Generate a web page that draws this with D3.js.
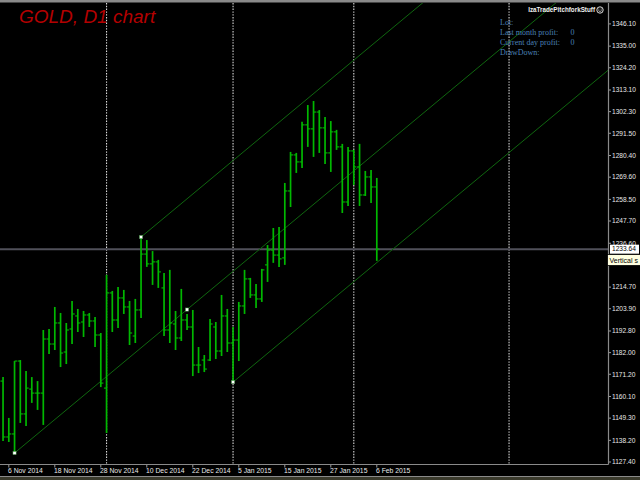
<!DOCTYPE html>
<html><head><meta charset="utf-8">
<script src="https://cdn.jsdelivr.net/npm/d3@7/dist/d3.min.js"></script>
<style>html,body{margin:0;padding:0;background:#000;overflow:hidden}</style>
</head><body>
<svg id="chart" width="640" height="480"></svg>
<script>
// ---- data (XAUUSD daily bars) ----
const dates = ["2014-11-05","2014-11-06","2014-11-07","2014-11-10","2014-11-11","2014-11-12","2014-11-13","2014-11-14","2014-11-17","2014-11-18","2014-11-19","2014-11-20","2014-11-21","2014-11-24","2014-11-25","2014-11-26","2014-11-27","2014-11-28","2014-12-01","2014-12-02","2014-12-03","2014-12-04","2014-12-05","2014-12-08","2014-12-09","2014-12-10","2014-12-11","2014-12-12","2014-12-15","2014-12-16","2014-12-17","2014-12-18","2014-12-19","2014-12-22","2014-12-23","2014-12-24","2014-12-26","2014-12-29","2014-12-30","2014-12-31","2015-01-02","2015-01-05","2015-01-06","2015-01-07","2015-01-08","2015-01-09","2015-01-12","2015-01-13","2015-01-14","2015-01-15","2015-01-16","2015-01-19","2015-01-20","2015-01-21","2015-01-22","2015-01-23","2015-01-26","2015-01-27","2015-01-28","2015-01-29","2015-01-30","2015-02-02","2015-02-03","2015-02-04","2015-02-05","2015-02-06"];
const open  = [1167.8,1139.9,1141.4,1177.8,1151.4,1163.8,1161.8,1161.8,1188.8,1186.3,1196.8,1182.3,1193.8,1200.3,1197.3,1200.8,1197.8,1190.8,1164.3,1211.8,1198.3,1209.3,1204.8,1190.3,1203.3,1231.2,1226.3,1227.3,1214.3,1193.3,1196.3,1189.3,1198.3,1194.8,1175.8,1178.3,1178.3,1194.8,1182.8,1200.3,1186.8,1188.3,1205.3,1218.8,1210.8,1208.8,1225.8,1233.2,1230.7,1229.3,1262.7,1280.7,1277.2,1295.7,1293.7,1302.1,1294.2,1281.7,1292.2,1284.7,1257.2,1282.7,1274.7,1260.7,1269.7,1264.7];
const high  = [1169.8,1149.4,1177.8,1178.3,1172.8,1169.8,1167.8,1193.3,1193.8,1204.8,1201.8,1196.8,1207.8,1203.8,1202.8,1201.8,1199.8,1191.8,1220.8,1212.8,1214.8,1213.3,1207.8,1208.8,1239.7,1238.2,1232.7,1228.3,1221.8,1223.3,1202.8,1213.8,1201.3,1203.3,1184.8,1180.8,1198.8,1197.3,1210.8,1203.8,1194.8,1207.3,1223.3,1219.3,1216.3,1223.8,1235.7,1244.2,1244.7,1266.7,1282.2,1281.7,1297.2,1305.6,1307.6,1303.1,1299.6,1297.6,1293.2,1286.2,1284.7,1283.2,1286.2,1272.7,1273.2,1269.2];
const low   = [1137.9,1137.4,1131.9,1146.9,1145.4,1156.9,1153.4,1145.9,1181.3,1183.3,1174.8,1176.3,1186.3,1192.3,1189.8,1194.8,1184.8,1164.8,1141.9,1192.3,1194.3,1201.3,1185.8,1186.8,1199.3,1224.8,1215.8,1214.3,1190.3,1186.8,1183.3,1187.8,1193.3,1170.3,1171.8,1172.3,1177.8,1178.8,1180.3,1182.3,1167.3,1177.8,1201.3,1209.3,1204.3,1207.3,1217.3,1226.8,1224.8,1225.8,1254.7,1271.7,1274.2,1284.7,1279.7,1281.7,1276.2,1272.2,1283.2,1251.7,1255.2,1265.7,1255.2,1260.2,1256.7,1227.8];
const close = [1139.9,1141.4,1177.8,1151.4,1164.3,1161.8,1161.8,1188.8,1186.3,1196.8,1181.8,1193.3,1201.3,1196.8,1200.8,1197.8,1190.8,1166.8,1211.8,1198.3,1209.3,1204.8,1191.8,1203.3,1231.2,1226.3,1227.3,1222.3,1193.3,1196.8,1189.3,1198.3,1194.8,1175.8,1175.8,1173.8,1196.3,1182.8,1200.3,1186.8,1188.3,1205.3,1218.8,1210.8,1208.8,1223.3,1233.2,1230.7,1228.8,1262.7,1280.7,1277.2,1295.7,1293.7,1302.1,1294.2,1281.7,1292.2,1284.7,1257.2,1282.7,1274.7,1260.7,1269.7,1264.7,1233.64];
const priceTicks = [1346.10,1335.00,1324.20,1313.10,1302.30,1291.50,1280.40,1269.60,1258.50,1247.70,1236.60,1214.70,1203.90,1192.80,1182.00,1171.20,1160.10,1149.30,1138.20,1127.40];
const dateLabels = ["6 Nov 2014","18 Nov 2014","28 Nov 2014","10 Dec 2014","22 Dec 2014","5 Jan 2015","15 Jan 2015","27 Jan 2015","6 Feb 2015"];
const separatorBars = [18, 40, 61, 88];          // month separators (bar numbers, last one in future area)
const pitchforkBars = [2, 24, 40];               // anchor (low), point 2 (high), point 3 (low)
const currentPrice = 1233.64;
const infoLabels = ["Lot:", "Last month profit:", "Current day profit:", "DrawDown:"];
const infoValues = ["", "0", "0", ""];

// ---- scales ----
const W = 640, H = 480, plotRight = 608, plotTop = 3, plotBottom = 464;
const x = d3.scaleLinear().domain([0, 65]).range([3.05, 376.8]);
const y = d3.scaleLinear().domain([1127.4, 1346.1]).range([462, 23.9]);
const parse = d3.timeParse("%Y-%m-%d");
const fmt = d3.timeFormat("%-d %b %Y");

const svg = d3.select("#chart");
svg.append("rect").attr("width", W).attr("height", H).attr("fill", "#000");
svg.append("defs").append("clipPath").attr("id", "plot")
  .append("rect").attr("x", 0).attr("y", plotTop).attr("width", plotRight).attr("height", plotBottom - plotTop);

// top border
svg.append("rect").attr("x", 0).attr("y", 0).attr("width", W).attr("height", 2.5).attr("fill", "#8a8a8a");
// bottom window strip
svg.append("rect").attr("x", 0).attr("y", 476).attr("width", W).attr("height", 1).attr("fill", "#8a8a8a");
svg.append("rect").attr("x", 0).attr("y", 477).attr("width", W).attr("height", 3).attr("fill", "#3a3a2c");

const plot = svg.append("g").attr("clip-path", "url(#plot)");

// separators
plot.selectAll("line.sep").data(separatorBars).join("line")
  .attr("x1", d => x(d)).attr("x2", d => x(d))
  .attr("y1", plotTop).attr("y2", plotBottom)
  .attr("stroke", "#dcdcdc").attr("stroke-width", 1.1).attr("stroke-dasharray", "1.4,1.4");

// bid line
plot.append("line").attr("x1", 0).attr("x2", plotRight)
  .attr("y1", y(currentPrice)).attr("y2", y(currentPrice))
  .attr("stroke", "#50505a").attr("stroke-width", 2);

// pitchfork
const pA = {i: pitchforkBars[0], p: low[pitchforkBars[0]]};
const p2 = {i: pitchforkBars[1], p: high[pitchforkBars[1]]};
const p3 = {i: pitchforkBars[2], p: low[pitchforkBars[2]]};
const pM = {i: (p2.i + p3.i) / 2, p: (p2.p + p3.p) / 2};
const slope = (pM.p - pA.p) / (pM.i - pA.i);
const iEnd = x.invert(plotRight + 5);
[pA, p2, p3].forEach(s => {
  plot.append("line")
    .attr("x1", x(s.i)).attr("y1", y(s.p))
    .attr("x2", x(iEnd)).attr("y2", y(s.p + slope * (iEnd - s.i)))
    .attr("stroke", "#0f660f").attr("stroke-width", 1);
});

// bars
const bars = plot.append("g").attr("stroke", "#00b800");
dates.forEach((d, i) => {
  const cx = x(i);
  bars.append("line").attr("x1", cx).attr("x2", cx).attr("y1", y(high[i])).attr("y2", y(low[i])).attr("stroke-width", 1.7);
  bars.append("line").attr("x1", cx - 2.6).attr("x2", cx).attr("y1", y(open[i])).attr("y2", y(open[i])).attr("stroke-width", 1.1);
  bars.append("line").attr("x1", cx).attr("x2", cx + 2.6).attr("y1", y(close[i])).attr("y2", y(close[i])).attr("stroke-width", 1.1);
});

// pitchfork points
plot.selectAll("rect.pt").data([pA, p2, pM, p3]).join("rect")
  .attr("x", d => x(d.i) - 1.6).attr("y", d => y(d.p) - 1.6)
  .attr("width", 3.2).attr("height", 3.2).attr("fill", "#ffffff").attr("stroke", "#3a8a3a").attr("stroke-width", 0.5);

// axes lines
svg.append("line").attr("x1", plotRight + 0.5).attr("x2", plotRight + 0.5).attr("y1", plotTop).attr("y2", plotBottom + 0.5)
  .attr("stroke", "#8a8a8a").attr("stroke-width", 1.2);
svg.append("line").attr("x1", 0).attr("x2", plotRight + 0.5).attr("y1", plotBottom + 0.5).attr("y2", plotBottom + 0.5)
  .attr("stroke", "#8a8a8a").attr("stroke-width", 1.2);

// right axis ticks + labels
const ax = svg.append("g").attr("font-family", "'Liberation Sans', Arial, sans-serif").attr("font-size", 6.6).attr("fill", "#e8e8e8");
priceTicks.forEach(p => {
  ax.append("line").attr("x1", plotRight + 1).attr("x2", plotRight + 3).attr("y1", y(p)).attr("y2", y(p)).attr("stroke", "#9a9a9a");
  ax.append("text").attr("x", 612).attr("y", y(p)).attr("dy", "0.35em").text(d3.format(".2f")(p));
});

// date labels
const dl = svg.append("g").attr("font-family", "'Liberation Sans', Arial, sans-serif").attr("font-size", 6.8).attr("fill", "#e8e8e8");
dates.forEach((d, i) => {
  const lab = fmt(parse(d));
  if (dateLabels.includes(lab)) {
    dl.append("line").attr("x1", x(i)).attr("x2", x(i)).attr("y1", plotBottom + 1).attr("y2", plotBottom + 3.5).attr("stroke", "#9a9a9a");
    dl.append("text").attr("x", x(i) - 0.8).attr("y", 470.5).attr("dy", "0.35em").text(lab);
  }
});

// current price box
const cy = y(currentPrice);
svg.append("rect").attr("x", 610).attr("y", cy - 4.5).attr("width", 29).attr("height", 9).attr("fill", "#ffffff");
svg.append("text").attr("x", 612).attr("y", cy).attr("dy", "0.35em").attr("font-family", "'Liberation Sans', Arial, sans-serif")
  .attr("font-size", 6.6).attr("fill", "#000").text(d3.format(".2f")(currentPrice));
// tooltip
svg.append("rect").attr("x", 607.5).attr("y", 254.5).attr("width", 34).attr("height", 11).attr("fill", "#ffffe1").attr("stroke", "#000").attr("stroke-width", 0.8);
svg.append("text").attr("x", 609.5).attr("y", 260.5).attr("dy", "0.35em").attr("font-family", "'Liberation Sans', Arial, sans-serif")
  .attr("font-size", 7).attr("fill", "#000").text("Vertical s");

// title
svg.append("text").attr("x", 19).attr("y", 22.5).attr("font-family", "'Liberation Sans', Arial, sans-serif")
  .attr("font-style", "italic").attr("font-size", 19).attr("fill", "#b40000").text("GOLD, D1 chart");

// EA name + icon
svg.append("text").attr("x", 595).attr("y", 10).attr("dy", "0.35em").attr("text-anchor", "end")
  .attr("font-family", "'Liberation Sans', Arial, sans-serif").attr("font-size", 6.3).attr("font-weight", "bold").attr("fill", "#f0f0f0")
  .text("IzaTradePitchforkStuff");
svg.append("circle").attr("cx", 600).attr("cy", 10).attr("r", 3.2).attr("fill", "none").attr("stroke", "#f0f0f0").attr("stroke-width", 0.9);
svg.append("path").attr("d", "M598.3,10.6 Q600,12.4 601.7,10.6").attr("fill", "none").attr("stroke", "#f0f0f0").attr("stroke-width", 0.7);
svg.append("circle").attr("cx", 598.9).attr("cy", 9).attr("r", 0.5).attr("fill", "#f0f0f0");
svg.append("circle").attr("cx", 601.1).attr("cy", 9).attr("r", 0.5).attr("fill", "#f0f0f0");

// info panel
const info = svg.append("g").attr("font-family", "'Liberation Serif', 'Times New Roman', serif").attr("font-size", 8).attr("fill", "#4a80b8");
infoLabels.forEach((t, k) => {
  info.append("text").attr("x", 500).attr("y", 21.7 + k * 10).attr("dy", "0.35em").text(t);
  if (infoValues[k]) info.append("text").attr("x", 570.5).attr("y", 21.7 + k * 10).attr("dy", "0.35em").text(infoValues[k]);
});
</script>
</body></html>
